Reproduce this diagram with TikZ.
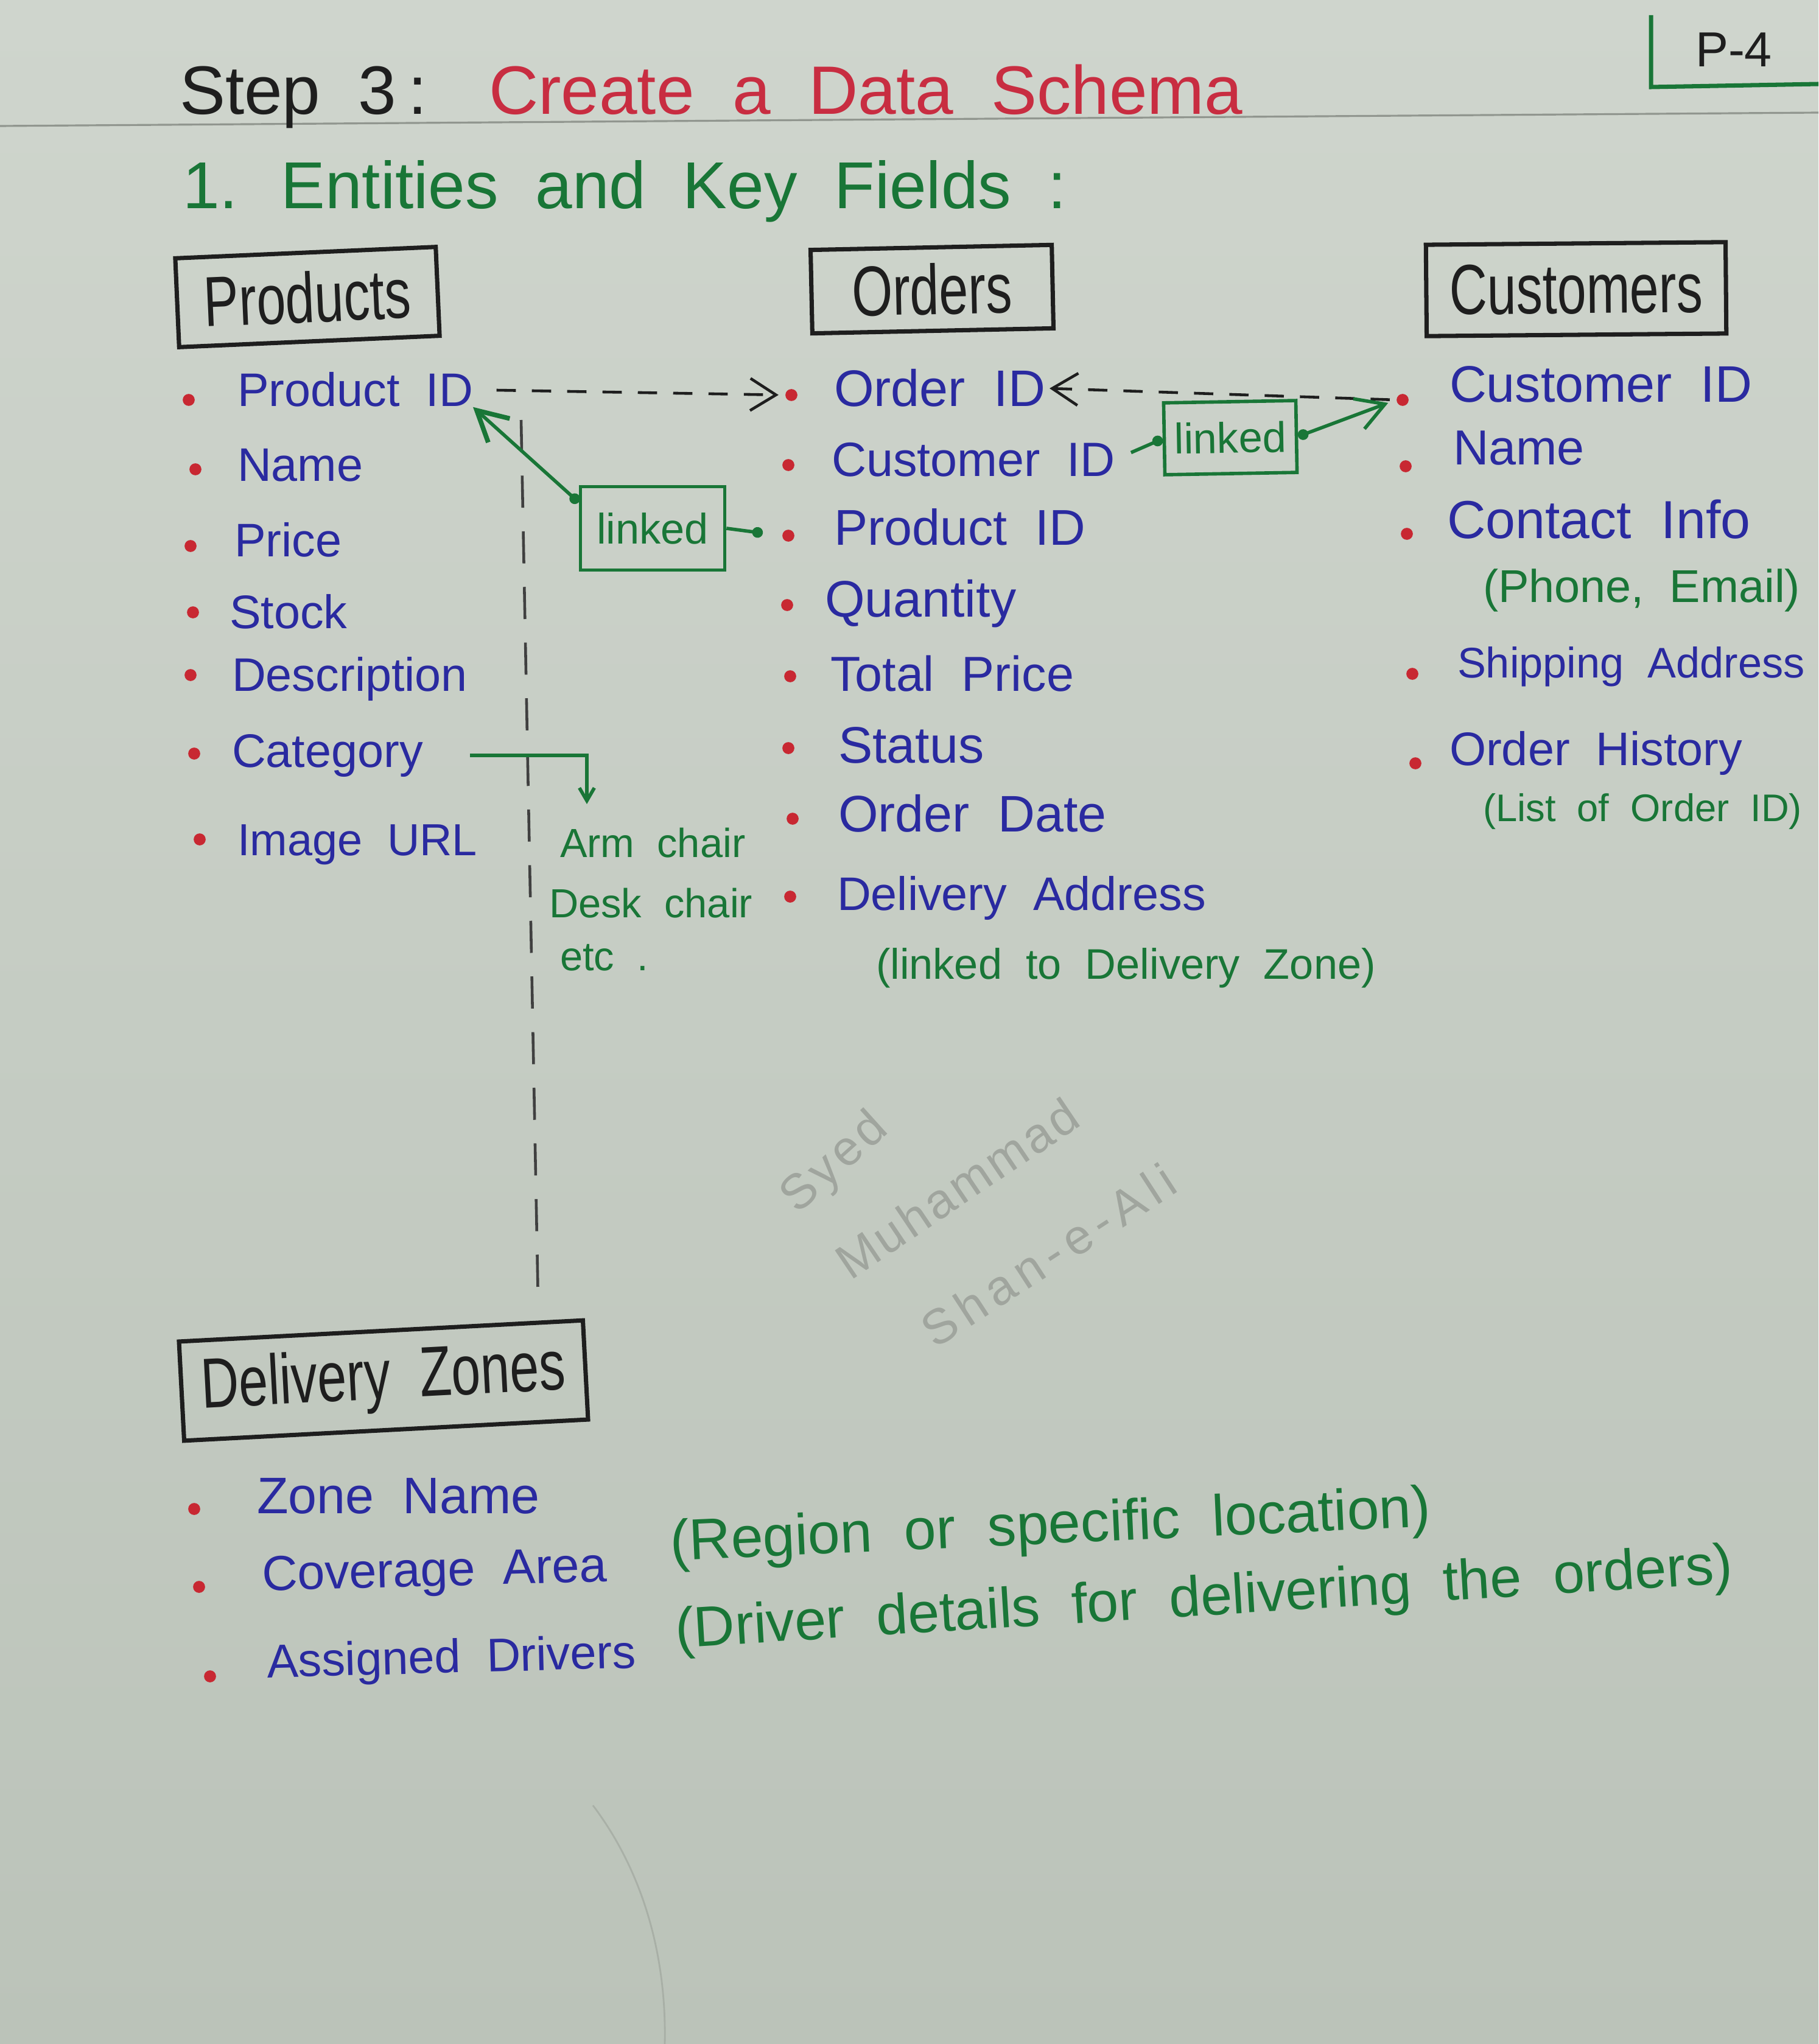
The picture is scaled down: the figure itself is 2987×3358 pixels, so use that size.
\documentclass[tikz,border=0pt]{standalone}
\usepackage{fontspec}
\setmainfont{Liberation Sans}[WordSpace=2]
\usepackage{graphicx}
\usetikzlibrary{arrows.meta,calc}
\definecolor{papertop}{RGB}{207,213,205}
\definecolor{paperbot}{RGB}{187,195,185}
\definecolor{inkblue}{RGB}{42,42,160}
\definecolor{inkgreen}{RGB}{25,118,55}
\definecolor{inkred}{RGB}{200,45,65}
\definecolor{bulred}{RGB}{200,40,50}
\definecolor{inkblack}{RGB}{30,30,30}
\definecolor{pencil}{RGB}{160,165,158}
\definecolor{ruleline}{RGB}{120,125,118}
\newcommand{\entxt}[1]{\scalebox{1}[1.35]{#1}}
\tikzset{
  fs/.style={font=\fontsize{#1}{#1}\selectfont},
  txt/.style={anchor=base west, inner sep=0pt, outer sep=0pt},
  fld/.style={txt, text=inkblue},
  gnote/.style={txt, text=inkgreen},
  bul/.style={circle, fill=bulred, inner sep=0pt, minimum size=5.6pt},
  ent/.style={draw=inkblack, line width=2pt, inner sep=0pt, text=inkblack, fs=24.5},
  lk/.style={draw=inkgreen, line width=1.6pt, inner sep=0pt, text=inkgreen, fs=20},
  blkdash/.style={draw=inkblack, line width=1.3pt, dash pattern=on 9pt off 7.5pt},
  longdash/.style={draw=inkblack!85, line width=1.3pt, dash pattern=on 15pt off 11pt},
  gline/.style={draw=inkgreen, line width=1.6pt},
  barb/.style={-{Straight Barb[length=12pt,width=15pt]}},
  sig/.style={text=pencil, inner sep=0pt, font=\fontsize{23}{23}\selectfont\addfontfeature{LetterSpace=#1}},
  sig/.default=0
}
\begin{document}
\begin{tikzpicture}[x=0.01cm,y=-0.01cm]
\useasboundingbox (0,0) rectangle (2987,3358);
\shade[top color=papertop,bottom color=paperbot] (0,0) rectangle (2987,3358);
\draw[ruleline, line width=0.9pt, opacity=0.7] (0,207) -- (2987,185);
\draw[paperbot!80!black, line width=0.8pt, opacity=0.5] (974,2966) .. controls (1060,3080) and (1095,3220) .. (1092,3358);

% page mark
\draw[inkgreen, line width=2pt] (2712,25) -- (2712,143) -- (2987,138);
\node[text=inkblack, fs=23, inner sep=0pt] (pg) at (2848,82) {P-4};

% titles
\node[txt, text=inkblack, fs=32] (st) at (295,188) {Step 3\,:};
\node[txt, text=inkred, fs=32] (ttl) at (803,188) {Create a Data Schema};
\node[txt, text=inkgreen, fs=31] (sub) at (300,343) {1. Entities and Key Fields :};

% entity boxes
\node[ent, minimum width=4.28cm, minimum height=1.46cm, rotate=2.5] (prod) at (505,488) {\entxt{Products}};
\node[ent, minimum width=3.96cm, minimum height=1.37cm, rotate=1.2] (ord) at (1531,475) {\entxt{Orders}};
\node[ent, minimum width=4.92cm, minimum height=1.50cm, rotate=0.5] (cust) at (2589,475) {\entxt{Customers}};
\node[ent, minimum width=6.64cm, minimum height=1.63cm, rotate=3] (dz) at (630,2268) {\entxt{Delivery Zones}};

% Products fields
\node[bul] (pb1) at (310,657) {};
\node[bul] (pb2) at (321,771) {};
\node[bul] (pb3) at (313,897) {};
\node[bul] (pb4) at (317,1006) {};
\node[bul] (pb5) at (313,1109) {};
\node[bul] (pb6) at (319,1238) {};
\node[bul] (pb7) at (328,1379) {};
\node[fld, fs=22] (pid) at (390,668) {Product ID};
\node[fld, fs=22] (pname) at (390,790) {Name};
\node[fld, fs=22] (pprice) at (385,914) {Price};
\node[fld, fs=22] (pstock) at (377,1032) {Stock};
\node[fld, fs=22] (pdesc) at (381,1135) {Description};
\node[fld, fs=22] (pcat) at (381,1260) {Category};
\node[fld, fs=21] (pimg) at (390,1405) {Image URL};

% Orders fields
\node[bul] (ob1) at (1300,649) {};
\node[bul] (ob2) at (1295,764) {};
\node[bul] (ob3) at (1295,880) {};
\node[bul] (ob4) at (1293,994) {};
\node[bul] (ob5) at (1298,1111) {};
\node[bul] (ob6) at (1295,1229) {};
\node[bul] (ob7) at (1302,1345) {};
\node[bul] (ob8) at (1298,1473) {};
\node[fld, fs=24] (oid) at (1370,668) {Order ID};
\node[fld, fs=22.5] (ocid) at (1366,782) {Customer ID};
\node[fld, fs=23.5] (opid) at (1370,895) {Product ID};
\node[fld, fs=24] (oqty) at (1355,1013) {Quantity};
\node[fld, fs=23] (otot) at (1364,1135) {Total Price};
\node[fld, fs=24] (ostat) at (1377,1253) {Status};
\node[fld, fs=24] (odate) at (1377,1366) {Order Date};
\node[fld, fs=22] (oaddr) at (1375,1495) {Delivery Address};
\node[gnote, fs=20] (olink) at (1439,1608) {(linked to Delivery Zone)};

% Customers fields
\node[bul] (cb1) at (2304,657) {};
\node[bul] (cb2) at (2309,766) {};
\node[bul] (cb3) at (2311,877) {};
\node[bul] (cb4) at (2320,1107) {};
\node[bul] (cb5) at (2325,1254) {};
\node[fld, fs=24] (cid) at (2381,661) {Customer ID};
\node[fld, fs=23] (cname) at (2387,763) {Name};
\node[fld, fs=25] (ccont) at (2377,884) {Contact Info};
\node[gnote, fs=21.5] (cphone) at (2436,989) {(Phone, Email)};
\node[fld, fs=20] (cship) at (2394,1113) {Shipping Address};
\node[fld, fs=22] (chist) at (2381,1257) {Order History};
\node[gnote, fs=18] (clist) at (2436,1349) {(List of Order ID)};

% Delivery Zones fields
\node[bul] (db1) at (319,2479) {};
\node[bul] (db2) at (327,2607) {};
\node[bul] (db3) at (345,2754) {};
\node[fld, fs=24] (dname) at (422,2486) {Zone Name};
\node[fld, fs=23, rotate=1.5] (dcov) at (431,2613) {Coverage Area};
\node[fld, fs=22, rotate=1.5] (ddrv) at (439,2756) {Assigned Drivers};
\node[gnote, fs=27, rotate=2.6] (dreg) at (1102,2564) {(Region or specific location)};
\node[gnote, fs=26.5, rotate=3.5] (ddet) at (1111,2707) {(Driver details for delivering the orders)};

% category notes
\node[gnote, fs=19] (arm) at (920,1408) {Arm chair};
\node[gnote, fs=19] (desk) at (902,1507) {Desk chair};
\node[gnote, fs=19] (etc) at (920,1594) {etc .};

% linked boxes
\node[lk, minimum width=2.37cm, minimum height=1.37cm] (lk1) at (1072,868) {linked};
\node[lk, minimum width=2.17cm, minimum height=1.18cm, rotate=1] (lk2) at (2021,719) {linked};

% connectors
\coordinate (vtop) at (856,690);
\coordinate (vbot) at (884,2141);
\draw[longdash] (vtop) -- (vbot);

\draw[blkdash, barb, shorten <=11pt, shorten >=3pt] (pid.east) -- (ob1.west);
\draw[blkdash, barb, shorten <=3pt, shorten >=2pt] (cb1.west) -- (oid.east);

\draw[gline, -{Circle[length=5pt]}, shorten <=8pt] (ocid.east) -- (lk2.west);
\draw[gline, {Circle[length=5pt]}-{Straight Barb[length=13pt,width=15pt]}, shorten >=4pt] (lk2.east) -- (cb1.west);

\draw[gline, -{Circle[length=5pt]}, shorten >=9pt] (lk1.east) -- (ob3.west);
\draw[gline, {Circle[length=5pt]}-{Straight Barb[length=14pt,width=15pt,line width=2.2pt]}] ($(lk1.north west)!0.2!(lk1.south west)$) -- (pid.south east);

\coordinate (catend) at (964,1321);
\draw[gline, -{Straight Barb[length=6pt,width=7pt]}, shorten <=22pt] (pcat.east) -| (catend);

% signature
\node[sig=8, rotate=42] (sg1) at (1372,1912) {Syed};
\node[sig=6, rotate=34] (sg2) at (1572,1952) {Muhammad};
\node[sig=14, rotate=33] (sg3) at (1722,2062) {Shan-e-Ali};
\end{tikzpicture}
\end{document}
